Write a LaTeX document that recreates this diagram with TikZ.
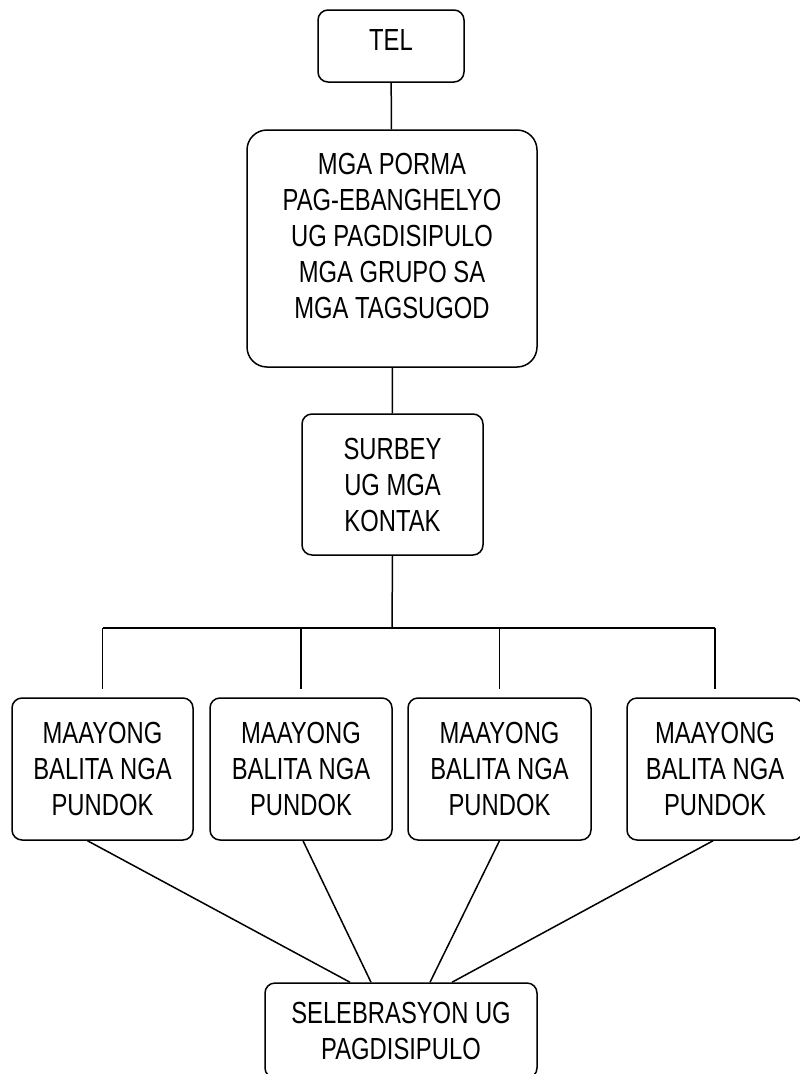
\documentclass[tikz,border=0pt]{standalone}
\usepackage{fontspec}
\setmainfont{Liberation Sans}[FakeStretch=0.78]
\usetikzlibrary{calc}
\begin{document}
\begin{tikzpicture}[x=1pt,y=-1pt,
  box/.style={draw,line width=1.5pt,rounded corners=10pt,align=center,inner sep=0pt,
    font=\fontsize{30.5}{36}\selectfont},
  link/.style={line width=1.5pt}]
\useasboundingbox (0,0) rectangle (800,1074);
\clip (0,0) rectangle (800,1074);
\node[box,minimum width=146pt,minimum height=72pt,text depth=12pt] (tel) at (391,46) {TEL};
\node[box,rounded corners=20pt,minimum width=290pt,minimum height=237pt,text depth=26pt] (forms) at (392,248.5)
  {MGA PORMA\\PAG-EBANGHELYO\\UG PAGDISIPULO\\MGA GRUPO SA\\MGA TAGSUGOD};
\node[box,minimum width=181pt,minimum height=141pt] (surbey) at (392.5,484.5) {SURBEY\\UG MGA\\KONTAK};
\node[box,minimum width=181pt,minimum height=142pt] (g1) at (102.5,769) {MAAYONG\\BALITA NGA\\PUNDOK};
\node[box,minimum width=182pt,minimum height=142pt] (g2) at (301,769) {MAAYONG\\BALITA NGA\\PUNDOK};
\node[box,minimum width=183pt,minimum height=142pt] (g3) at (499.5,769) {MAAYONG\\BALITA NGA\\PUNDOK};
\node[box,minimum width=176pt,minimum height=142pt] (g4) at (715,769) {MAAYONG\\BALITA NGA\\PUNDOK};
\node[box,minimum width=272pt,minimum height=95pt] (cel) at (401,1030.5) {SELEBRASYON UG\\PAGDISIPULO};
\coordinate (bar) at (392,628);
\draw[link] (tel) -- (forms);
\draw[link] (forms) -- (surbey);
\draw[link] (surbey.south) -- (bar);
\draw[link] (g1.north |- bar) -- (g4.north |- bar);
\foreach \g in {g1,g2,g3,g4}
  \draw[link,shorten >=8pt] (\g.north |- bar) -- (\g.north);
\draw[link] ($(g1.south)+(-15,0)$) -- ($(cel.north)+(-51,0)$);
\draw[link] ($(g2.south)+(2,0)$) -- ($(cel.north)+(-30,0)$);
\draw[link] ($(g3.south)+(0,0)$) -- ($(cel.north)+(29,0)$);
\draw[link] ($(g4.south)+(-2,0)$) -- ($(cel.north)+(51,0)$);
\end{tikzpicture}
\end{document}
